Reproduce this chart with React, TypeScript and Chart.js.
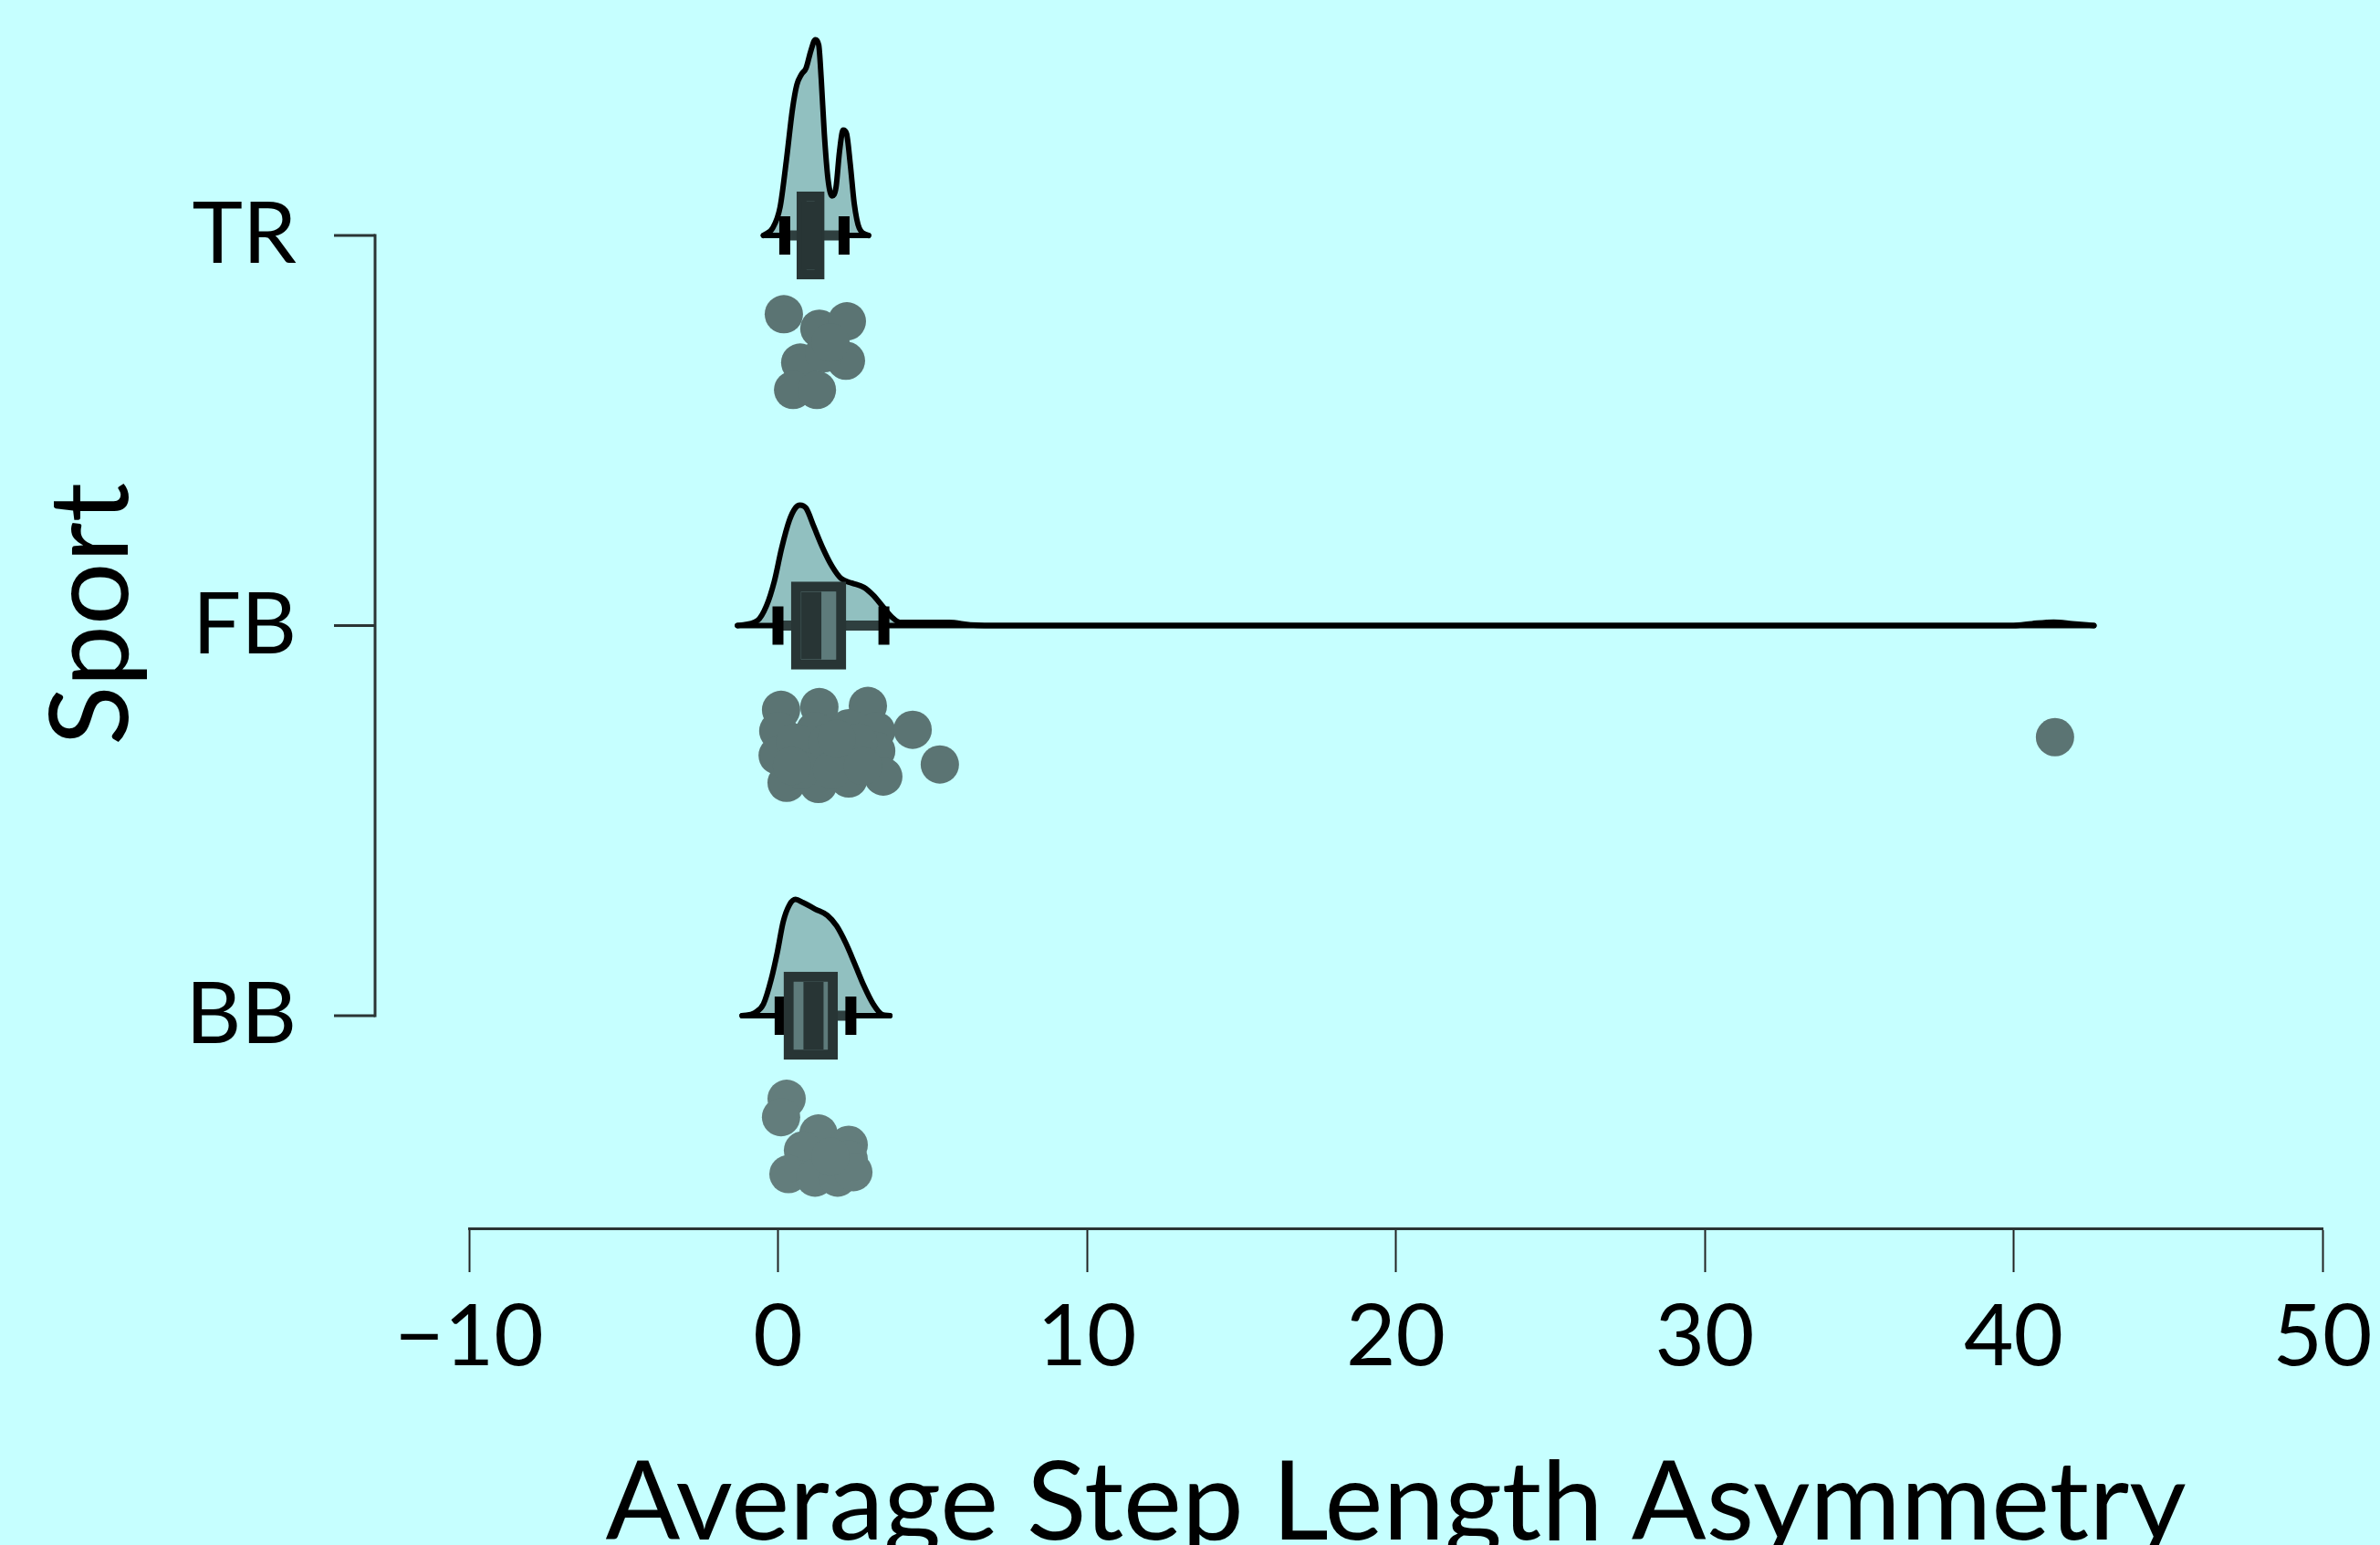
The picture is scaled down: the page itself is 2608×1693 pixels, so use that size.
import React, { useEffect, useRef } from "react";
import { Chart, registerables } from "chart.js";

Chart.register(...registerables);

// ---------- data ----------
const categories = ["BB", "FB", "TR"];
const categoryPositions = [1, 2, 3];
const xTickValues = [-10, 0, 10, 20, 30, 40, 50];

// half-violin densities (height in category units above each baseline)
const trDensityX = [-0.47, -0.17, 0.07, 0.27, 0.47, 0.61, 0.76, 0.91, 1.06, 1.21, 1.32, 1.4, 1.5, 1.62, 1.75, 1.88, 1.99, 2.11, 2.22, 2.34, 2.47, 2.63, 2.93];
const trDensityH = [0, 0.019, 0.073, 0.191, 0.324, 0.386, 0.413, 0.429, 0.472, 0.502, 0.488, 0.402, 0.261, 0.144, 0.101, 0.124, 0.214, 0.27, 0.261, 0.183, 0.081, 0.019, 0];

const fbDensityX = [-1.31, -0.66, -0.37, -0.12, 0.12, 0.37, 0.57, 0.71, 0.91, 1.16, 1.45, 1.75, 2.04, 2.39, 2.78, 3.08, 3.37, 3.67, 3.96, 4.75, 5.54, 6.23, 7.3, 40.0, 40.6, 41.3, 41.9, 42.6];
const fbDensityH = [0, 0.013, 0.051, 0.113, 0.199, 0.27, 0.302, 0.309, 0.301, 0.254, 0.199, 0.152, 0.121, 0.109, 0.098, 0.078, 0.051, 0.023, 0.008, 0.008, 0.008, 0.002, 0, 0, 0.005, 0.009, 0.005, 0];

const bbDensityX = [-1.16, -0.76, -0.47, -0.22, -0.02, 0.17, 0.37, 0.57, 0.81, 1.21, 1.6, 1.9, 2.19, 2.49, 2.78, 3.08, 3.37, 3.62];
const bbDensityH = [0, 0.007, 0.03, 0.093, 0.163, 0.241, 0.284, 0.298, 0.29, 0.273, 0.257, 0.23, 0.187, 0.132, 0.077, 0.03, 0.003, 0];

// box plot summaries, order BB, FB, TR
const boxLower = [0.19, 0.43, 0.61];
const boxUpper = [1.93, 2.2, 1.5];
const boxMedian = [1.15, 1.08, 1.1];
const whiskerLow = [0.07, 0.0, 0.22];
const whiskerHigh = [2.36, 3.43, 2.14];

// raw points: value and jitter (category units below baseline)
const trPointsX = [0.19, 1.34, 2.23, 0.72, 2.2, 0.49, 1.26, 1.49, 1.7];
const trPointsJitter = [0.202, 0.239, 0.22, 0.326, 0.321, 0.396, 0.396, 0.302, 0.274];

const fbPointsX = [0.1, 1.34, 2.91, 0.01, 1.2, 2.29, 3.18, -0.01, 1.11, 2.2, 3.18, 0.28, 1.31, 2.29, 3.41, 4.36, 5.24, 41.34, 0.55, 0.75, 1.6, 1.75, 2.6, 2.75, 0.45, 1.9];
const fbPointsJitter = [0.216, 0.209, 0.206, 0.27, 0.27, 0.263, 0.27, 0.333, 0.333, 0.324, 0.321, 0.403, 0.406, 0.392, 0.387, 0.267, 0.356, 0.286, 0.3, 0.37, 0.3, 0.37, 0.3, 0.36, 0.36, 0.29];

const bbPointsX = [0.28, 0.1, 1.31, 2.29, 2.29, 0.81, 0.34, 1.2, 1.93, 2.44, 1.7];
const bbPointsJitter = [0.213, 0.26, 0.302, 0.331, 0.368, 0.345, 0.406, 0.415, 0.415, 0.401, 0.361];

// ---------- style ----------
const BG = "#c6ffff";
const DENS_FILL = "#91c0c0";
const LINE = "#000000";
const BOX_BORDER = "#283535";
const BOX_FILL = "#5e7b7b";
const WHISKER = "#2f3f3f";
const POINT_A = "#5b7473";
const POINT_B = "#637d7c";
const AXIS_COLOR = "#2a3434";
const FONT = "Lato";

const Y_AXIS_OFFSET = 103;

const bgPlugin = {
  id: "bgFill",
  beforeDraw(chart: any) {
    const { ctx, width, height } = chart;
    ctx.save();
    ctx.fillStyle = BG;
    ctx.fillRect(0, 0, width, height);
    ctx.restore();
  },
};

const yAxisLinePlugin = {
  id: "yAxisLine",
  afterDraw(chart: any) {
    const { ctx, chartArea } = chart;
    const y = chart.scales.y;
    const x0 = chartArea.left - Y_AXIS_OFFSET;
    const top = y.getPixelForValue(Math.max(...categoryPositions));
    const bottom = y.getPixelForValue(Math.min(...categoryPositions));
    ctx.save();
    ctx.strokeStyle = AXIS_COLOR;
    ctx.lineWidth = 3;
    ctx.beginPath();
    ctx.moveTo(x0, top - 1.5);
    ctx.lineTo(x0, bottom + 1.5);
    ctx.stroke();
    categoryPositions.forEach((v) => {
      const py = y.getPixelForValue(v);
      ctx.beginPath();
      ctx.moveTo(x0 - 45, py);
      ctx.lineTo(x0, py);
      ctx.stroke();
    });
    ctx.restore();
  },
};

function densityData(xs: number[], hs: number[], base: number) {
  return xs.map((x, i) => ({ x, y: base + hs[i] }));
}
function pointData(xs: number[], js: number[], base: number) {
  return xs.map((x, i) => ({ x, y: base - js[i] }));
}

export default function App() {
  const canvasRef = useRef<HTMLCanvasElement | null>(null);

  useEffect(() => {
    if (!canvasRef.current) return;
    const densities = [
      { xs: bbDensityX, hs: bbDensityH, base: 1 },
      { xs: fbDensityX, hs: fbDensityH, base: 2 },
      { xs: trDensityX, hs: trDensityH, base: 3 },
    ];
    const datasets: any[] = [];
    densities.forEach((d) => {
      datasets.push({
        type: "line",
        data: densityData(d.xs, d.hs, d.base),
        borderColor: LINE,
        borderWidth: 6,
        backgroundColor: DENS_FILL,
        fill: { value: d.base },
        pointRadius: 0,
        cubicInterpolationMode: "monotone",
        borderCapStyle: "round",
        borderJoinStyle: "round",
        order: 10,
      });
      datasets.push({
        type: "line",
        data: [
          { x: d.xs[0], y: d.base },
          { x: d.xs[d.xs.length - 1], y: d.base },
        ],
        borderColor: LINE,
        borderWidth: 6,
        pointRadius: 0,
        fill: false,
        borderCapStyle: "round",
        order: 9,
      });
    });
    categoryPositions.forEach((pos, i) => {
      datasets.push({
        type: "line",
        data: [
          { x: whiskerLow[i], y: pos },
          { x: whiskerHigh[i], y: pos },
        ],
        borderColor: WHISKER,
        borderWidth: 11,
        pointRadius: 0,
        fill: false,
        borderCapStyle: "butt",
        order: 8,
      });
    });
    datasets.push({
      type: "scatter",
      data: categoryPositions.flatMap((pos, i) => [
        { x: whiskerLow[i], y: pos },
        { x: whiskerHigh[i], y: pos },
      ]),
      pointStyle: "line",
      pointRotation: 90,
      pointRadius: 21,
      pointBorderWidth: 12,
      pointBorderColor: "#000000",
      pointBackgroundColor: "#000000",
      order: 7,
    });
    datasets.push({
      type: "bar",
      indexAxis: "y",
      data: categoryPositions.map((pos, i) => ({ y: pos, x: [boxLower[i], boxUpper[i]] })),
      barThickness: 96,
      borderWidth: 11,
      borderSkipped: false,
      borderColor: BOX_BORDER,
      backgroundColor: BOX_FILL,
      order: 6,
    });
    datasets.push({
      type: "scatter",
      data: categoryPositions.map((pos, i) => ({ x: boxMedian[i], y: pos })),
      pointStyle: "line",
      pointRotation: 90,
      pointRadius: 37,
      pointBorderWidth: 22,
      pointBorderColor: BOX_BORDER,
      pointBackgroundColor: BOX_BORDER,
      order: 5,
    });
    [
      { xs: trPointsX, js: trPointsJitter, base: 3, c: POINT_A },
      { xs: fbPointsX, js: fbPointsJitter, base: 2, c: POINT_A },
      { xs: bbPointsX, js: bbPointsJitter, base: 1, c: POINT_B },
    ].forEach((p) => {
      datasets.push({
        type: "scatter",
        data: pointData(p.xs, p.js, p.base),
        pointRadius: 21,
        pointBorderWidth: 0,
        pointBackgroundColor: p.c,
        pointBorderColor: p.c,
        order: 1,
      });
    });

    const chart = new Chart(canvasRef.current, {
      type: "scatter",
      data: { datasets },
      options: {
        animation: false,
        responsive: false,
        maintainAspectRatio: false,
        devicePixelRatio: 1,
        events: [],
        layout: { autoPadding: false, padding: { left: 0, right: 63, top: 0, bottom: 0 } },
        plugins: { legend: { display: false }, tooltip: { enabled: false } },
        scales: {
          x: {
            type: "linear",
            min: -10,
            max: 50,
            offset: false,
            beginAtZero: false,
            afterBuildTicks: (scale: any) => {
              scale.ticks = xTickValues.map((v) => ({ value: v }));
            },
            afterFit: (scale: any) => {
              scale.height = 347;
              scale.paddingLeft = 0;
              scale.paddingRight = 0;
            },
            grid: {
              display: true,
              offset: false,
              drawOnChartArea: false,
              drawTicks: true,
              tickLength: 48,
              tickColor: "#222222",
              tickWidth: 2,
            },
            border: { display: true, color: AXIS_COLOR, width: 3 },
            ticks: {
              color: "#000000",
              padding: 25,
              maxRotation: 0,
              autoSkip: false,
              font: { family: FONT, size: 94, lineHeight: 1 },
              callback: (v: any) => (Number(v) < 0 ? "\u2212" + Math.abs(Number(v)) : String(v)),
            },
            title: {
              display: true,
              text: "Average Step Length Asymmetry",
              color: "#000000",
              font: { family: FONT, size: 121, lineHeight: 0.74 },
              padding: { top: 0, bottom: 0 },
            },
          },
          y: {
            type: "linear",
            min: 0.455,
            max: 3.6035,
            offset: false,
            beginAtZero: false,
            afterBuildTicks: (scale: any) => {
              scale.ticks = categoryPositions.map((v) => ({ value: v }));
            },
            afterFit: (scale: any) => {
              scale.width = 514;
              scale.paddingTop = 0;
              scale.paddingBottom = 0;
            },
            grid: { display: false, offset: false, drawOnChartArea: false, drawTicks: true, tickLength: 169 },
            border: { display: false },
            ticks: {
              color: "#000000",
              padding: 20,
              autoSkip: false,
              font: { family: FONT, size: 94, lineHeight: 1 },
              callback: (v: any) => categories[categoryPositions.indexOf(Number(v))] ?? "",
            },
            title: {
              display: true,
              text: "Sport",
              color: "#000000",
              font: { family: FONT, size: 121, lineHeight: 1 },
              padding: { top: 40, bottom: 0 },
            },
          },
        },
      },
      plugins: [bgPlugin, yAxisLinePlugin],
    } as any);
    return () => chart.destroy();
  }, []);

  return (
    <div style={{ position: "fixed", left: 0, top: 0, width: 2608, height: 1693, background: BG }}>
      <canvas ref={canvasRef} width={2608} height={1693} style={{ display: "block", width: 2608, height: 1693 }} />
    </div>
  );
}
